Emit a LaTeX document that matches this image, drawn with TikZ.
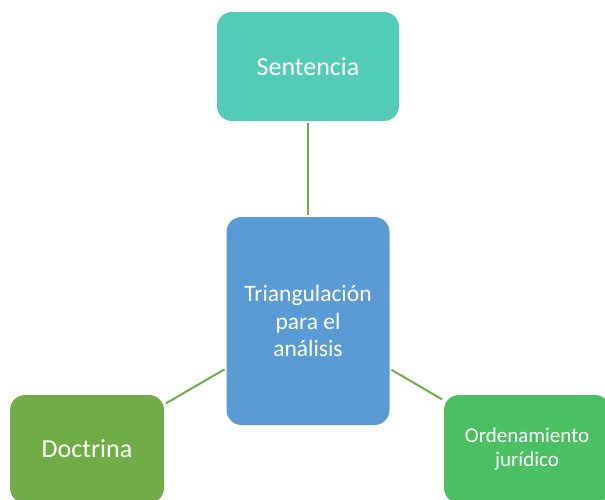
\documentclass[tikz,border=0pt]{standalone}
\usepackage{fontspec}
\setmainfont{Carlito}
\usepackage{tikz}
\usetikzlibrary{positioning}
\definecolor{tealbox}{HTML}{52CBB7}
\definecolor{bluebox}{HTML}{5B9BD5}
\definecolor{greenbox}{HTML}{70AD47}
\definecolor{lightgreen}{HTML}{4BC062}
\definecolor{linkgreen}{HTML}{70AD47}

\begin{document}
\begin{tikzpicture}[
  x=1pt, y=-1pt,
  every node/.style={text=white, align=center},
  box/.style={rectangle, rounded corners=15pt, inner sep=0pt},
  link/.style={draw=linkgreen, line width=2pt, shorten <=2pt, shorten >=2pt}
]

\useasboundingbox (0,0) rectangle (605,499);
\clip (0,0) rectangle (605,499);

% Centre
\node[box, fill=bluebox, minimum width=163pt, minimum height=208pt,
  font=\fontsize{23.5}{27.5}\selectfont] (triang) at (308,321)
  {Triangulación\\para el\\análisis};

% Outer boxes
\node[box, fill=tealbox, minimum width=182pt, minimum height=109pt,
  font=\fontsize{26}{30}\selectfont] (sentencia) at (308,66.5) {Sentencia};
\node[box, fill=greenbox, minimum width=154pt, minimum height=108pt,
  font=\fontsize{26}{30}\selectfont] (doctrina) at (87,449) {Doctrina};
\node[box, fill=lightgreen, minimum width=166pt, minimum height=108pt,
  font=\fontsize{21}{24}\selectfont] (ordenam) at (527,449)
  {Ordenamiento\\jurídico};

% Links
\draw[link] (sentencia) -- (triang);
\draw[link] (triang) -- (doctrina);
\draw[link] (triang) -- (ordenam);

\end{tikzpicture}
\end{document}
